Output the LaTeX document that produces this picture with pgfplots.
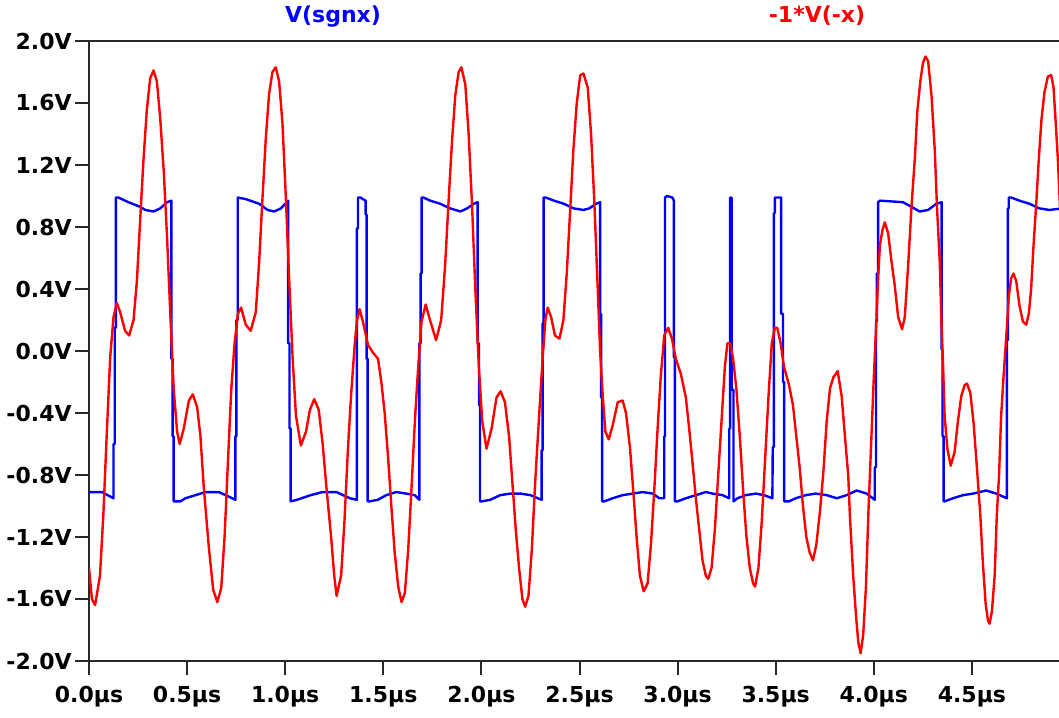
\documentclass[border=0pt]{standalone}
\usepackage{pgfplots}
\pgfplotsset{compat=1.18}
\usepackage{pgfplotstable}
\usepackage{fontspec}
\setmainfont{DejaVu Sans}
\usetikzlibrary{calc}

\definecolor{tracered}{RGB}{255,0,0}
\definecolor{traceblue}{RGB}{0,0,255}
\definecolor{frame}{RGB}{40,40,40}

% V(sgnx): comparator output, time in us, volts
\pgfplotstableread{
t v
0.000 -0.91
0.065 -0.91
0.125 -0.95
0.125 -0.60
0.131 -0.60
0.131 0.15
0.137 0.15
0.137 0.99
0.150 0.99
0.201 0.96
0.261 0.93
0.287 0.91
0.329 0.90
0.363 0.92
0.398 0.96
0.420 0.97
0.420 -0.05
0.426 -0.05
0.426 -0.55
0.431 -0.55
0.431 -0.97
0.466 -0.97
0.491 -0.95
0.543 -0.93
0.594 -0.91
0.662 -0.91
0.696 -0.93
0.730 -0.95
0.746 -0.96
0.746 -0.55
0.751 -0.55
0.751 0.20
0.758 0.20
0.758 0.99
0.799 0.98
0.867 0.95
0.910 0.91
0.944 0.90
0.978 0.92
1.015 0.97
1.015 0.05
1.022 0.05
1.022 -0.50
1.028 -0.50
1.028 -0.97
1.060 -0.96
1.130 -0.93
1.190 -0.91
1.260 -0.91
1.295 -0.93
1.330 -0.95
1.365 -0.96
1.365 0.79
1.371 0.79
1.371 0.99
1.385 0.99
1.395 0.98
1.410 0.97
1.410 0.88
1.415 0.88
1.415 -0.05
1.420 -0.05
1.420 -0.97
1.430 -0.97
1.472 -0.96
1.515 -0.93
1.566 -0.91
1.617 -0.92
1.660 -0.93
1.684 -0.96
1.684 0.05
1.690 0.05
1.690 0.50
1.695 0.50
1.695 0.99
1.705 0.99
1.739 0.97
1.790 0.95
1.841 0.92
1.893 0.90
1.927 0.92
1.961 0.95
1.981 0.96
1.981 0.05
1.988 0.05
1.988 -0.35
1.993 -0.35
1.993 -0.97
2.002 -0.97
2.045 -0.96
2.096 -0.93
2.148 -0.92
2.199 -0.92
2.250 -0.93
2.307 -0.96
2.307 -0.64
2.312 -0.64
2.312 0.18
2.317 0.18
2.317 0.99
2.328 0.99
2.370 0.97
2.420 0.95
2.470 0.92
2.520 0.91
2.550 0.92
2.585 0.95
2.605 0.96
2.605 0.24
2.610 0.24
2.610 -0.30
2.615 -0.30
2.615 -0.97
2.627 -0.97
2.669 -0.95
2.720 -0.93
2.771 -0.92
2.822 -0.91
2.873 -0.92
2.907 -0.95
2.932 -0.95
2.932 -0.55
2.936 -0.55
2.936 0.99
2.946 1.00
2.973 0.99
2.981 0.97
2.981 -0.04
2.986 -0.04
2.986 -0.97
3.000 -0.97
3.042 -0.95
3.093 -0.93
3.144 -0.91
3.178 -0.92
3.229 -0.93
3.263 -0.95
3.263 -0.50
3.268 -0.50
3.268 0.99
3.275 0.99
3.275 -0.25
3.285 -0.25
3.285 -0.97
3.305 -0.95
3.347 -0.93
3.398 -0.92
3.441 -0.93
3.483 -0.95
3.485 -0.62
3.491 -0.62
3.491 0.89
3.496 0.89
3.496 0.99
3.528 0.99
3.528 0.24
3.537 0.24
3.537 -0.20
3.543 -0.20
3.543 -0.97
3.568 -0.97
3.602 -0.95
3.653 -0.93
3.704 -0.92
3.760 -0.93
3.811 -0.95
3.862 -0.93
3.913 -0.90
3.964 -0.92
4.005 -0.96
4.005 -0.75
4.011 -0.75
4.011 0.19
4.016 0.19
4.016 0.50
4.022 0.50
4.022 0.96
4.031 0.97
4.149 0.96
4.192 0.93
4.234 0.90
4.277 0.91
4.319 0.95
4.346 0.96
4.346 0.01
4.350 0.01
4.350 -0.55
4.356 -0.55
4.356 -0.97
4.361 -0.97
4.404 -0.95
4.455 -0.93
4.506 -0.92
4.573 -0.90
4.624 -0.92
4.678 -0.95
4.678 0.07
4.683 0.07
4.683 0.92
4.688 0.92
4.688 0.99
4.700 0.99
4.742 0.97
4.793 0.95
4.844 0.92
4.895 0.91
4.960 0.92
}\sgnx

% -1*V(-x): input signal, time in us, volts
\pgfplotstableread{
t v
0.000 -1.40
0.015 -1.60
0.031 -1.64
0.056 -1.45
0.073 -1.06
0.090 -0.55
0.108 -0.04
0.125 0.22
0.142 0.31
0.159 0.25
0.184 0.13
0.205 0.10
0.227 0.20
0.244 0.45
0.261 0.85
0.278 1.24
0.295 1.56
0.312 1.76
0.329 1.81
0.346 1.74
0.363 1.50
0.381 1.16
0.398 0.73
0.415 0.22
0.432 -0.25
0.449 -0.52
0.462 -0.60
0.483 -0.50
0.509 -0.32
0.529 -0.28
0.551 -0.36
0.568 -0.55
0.585 -0.88
0.611 -1.27
0.633 -1.54
0.654 -1.62
0.674 -1.53
0.691 -1.20
0.708 -0.72
0.725 -0.25
0.742 0.05
0.759 0.24
0.775 0.28
0.799 0.17
0.824 0.13
0.850 0.25
0.867 0.57
0.884 0.98
0.901 1.37
0.918 1.66
0.935 1.80
0.952 1.83
0.969 1.74
0.986 1.47
1.003 1.00
1.020 0.47
1.038 -0.05
1.055 -0.42
1.080 -0.61
1.106 -0.52
1.126 -0.38
1.148 -0.31
1.171 -0.38
1.191 -0.60
1.208 -0.85
1.234 -1.20
1.250 -1.45
1.262 -1.58
1.285 -1.45
1.302 -1.10
1.319 -0.65
1.336 -0.28
1.353 0.02
1.365 0.19
1.379 0.27
1.396 0.19
1.422 0.04
1.447 -0.01
1.473 -0.05
1.490 -0.20
1.507 -0.40
1.524 -0.68
1.541 -1.00
1.558 -1.30
1.576 -1.52
1.593 -1.62
1.610 -1.56
1.627 -1.28
1.644 -0.88
1.661 -0.45
1.678 -0.10
1.695 0.19
1.716 0.30
1.738 0.20
1.769 0.07
1.795 0.20
1.815 0.55
1.832 0.95
1.850 1.35
1.867 1.65
1.884 1.80
1.898 1.83
1.918 1.72
1.935 1.40
1.952 0.95
1.969 0.40
1.987 -0.10
2.004 -0.45
2.026 -0.63
2.052 -0.50
2.077 -0.30
2.098 -0.26
2.120 -0.33
2.141 -0.55
2.158 -0.85
2.175 -1.15
2.192 -1.40
2.209 -1.60
2.223 -1.65
2.240 -1.58
2.257 -1.28
2.274 -0.85
2.295 -0.40
2.312 -0.05
2.326 0.20
2.338 0.28
2.355 0.22
2.375 0.10
2.398 0.08
2.418 0.20
2.435 0.50
2.452 0.90
2.469 1.30
2.486 1.60
2.504 1.78
2.520 1.79
2.542 1.70
2.559 1.40
2.576 0.95
2.593 0.40
2.605 0.00
2.619 -0.30
2.632 -0.52
2.649 -0.57
2.669 -0.48
2.695 -0.33
2.720 -0.32
2.737 -0.40
2.757 -0.62
2.774 -0.90
2.791 -1.20
2.808 -1.45
2.827 -1.55
2.847 -1.50
2.864 -1.25
2.881 -0.90
2.898 -0.50
2.915 -0.15
2.932 0.10
2.952 0.15
2.971 0.08
2.991 -0.05
3.017 -0.15
3.042 -0.30
3.059 -0.50
3.076 -0.72
3.093 -0.95
3.110 -1.15
3.127 -1.35
3.144 -1.45
3.156 -1.47
3.173 -1.40
3.190 -1.15
3.207 -0.80
3.224 -0.45
3.241 -0.10
3.254 0.05
3.268 0.05
3.283 -0.05
3.300 -0.25
3.317 -0.55
3.334 -0.90
3.351 -1.20
3.368 -1.40
3.385 -1.50
3.395 -1.52
3.412 -1.40
3.429 -1.10
3.446 -0.70
3.463 -0.30
3.480 0.05
3.496 0.15
3.508 0.15
3.525 0.05
3.542 -0.10
3.568 -0.22
3.588 -0.35
3.605 -0.55
3.622 -0.75
3.639 -1.00
3.656 -1.20
3.673 -1.30
3.690 -1.35
3.707 -1.25
3.726 -1.03
3.743 -0.78
3.760 -0.45
3.777 -0.24
3.794 -0.17
3.816 -0.13
3.836 -0.29
3.853 -0.55
3.870 -0.81
3.878 -1.06
3.895 -1.45
3.909 -1.70
3.921 -1.88
3.933 -1.95
3.946 -1.83
3.960 -1.52
3.972 -1.06
3.988 -0.55
4.000 -0.17
4.014 0.22
4.022 0.47
4.031 0.68
4.044 0.78
4.056 0.83
4.073 0.76
4.090 0.58
4.107 0.42
4.124 0.22
4.144 0.14
4.158 0.22
4.175 0.55
4.192 0.93
4.209 1.24
4.222 1.55
4.238 1.75
4.251 1.86
4.263 1.90
4.277 1.87
4.294 1.65
4.311 1.29
4.322 0.93
4.336 0.58
4.344 0.22
4.353 -0.09
4.361 -0.42
4.375 -0.63
4.392 -0.74
4.412 -0.65
4.429 -0.45
4.446 -0.29
4.463 -0.22
4.475 -0.21
4.492 -0.27
4.509 -0.47
4.526 -0.76
4.543 -1.06
4.556 -1.37
4.570 -1.63
4.582 -1.74
4.590 -1.76
4.602 -1.68
4.616 -1.45
4.627 -1.06
4.638 -0.81
4.649 -0.42
4.661 -0.17
4.675 0.09
4.688 0.35
4.700 0.47
4.712 0.50
4.726 0.45
4.743 0.29
4.760 0.19
4.777 0.17
4.790 0.24
4.802 0.40
4.814 0.68
4.827 0.93
4.841 1.24
4.855 1.50
4.870 1.67
4.887 1.77
4.904 1.78
4.916 1.70
4.926 1.50
4.938 1.24
4.950 0.90
4.962 0.55
}\inputx

\newcommand{\lbl}{\bfseries\fontsize{11}{13}\selectfont}

\begin{document}
\begin{tikzpicture}
\begin{axis}[
  name=ax,
  scale only axis,
  width=490.5pt, height=310pt,
  xmin=0, xmax=5, ymin=-2, ymax=2,
  axis line style={frame, line width=1pt},
  tick style={frame, line width=1pt},
  tick align=outside,
  major tick length=7pt,
  xtick pos=bottom, ytick pos=left,
  xtick={0,0.5,1,1.5,2,2.5,3,3.5,4,4.5},
  xticklabels={0.0µs,0.5µs,1.0µs,1.5µs,2.0µs,2.5µs,3.0µs,3.5µs,4.0µs,4.5µs},
  ytick={-2,-1.6,-1.2,-0.8,-0.4,0,0.4,0.8,1.2,1.6,2},
  yticklabels={-2.0V,-1.6V,-1.2V,-0.8V,-0.4V,0.0V,0.4V,0.8V,1.2V,1.6V,2.0V},
  ticklabel style={font=\lbl, text=black},
  yticklabel style={inner sep=0pt, xshift=-1.5pt},
  xticklabel style={inner sep=0pt, yshift=-5.5pt},
  every axis plot/.append style={line width=1.2pt, line join=round},
]
\addplot[traceblue, mark=none] table[x=t, y=v] {\sgnx};
\addplot[tracered, mark=none] table[x=t, y=v] {\inputx};
\coordinate (BL) at (rel axis cs:0,0);
\coordinate (TL) at (rel axis cs:0,1);
\end{axis}
\node[anchor=base, text=traceblue, font=\lbl] at ($(TL)+(122pt,9pt)$) {V(sgnx)};
\node[anchor=base, text=tracered, font=\lbl] at ($(TL)+(364pt,9pt)$) {-1*V(-x)};
\pgfresetboundingbox
\path ($(BL)+(-44.5pt,-28pt)$) rectangle ($(TL)+(485pt,20.5pt)$);
\end{tikzpicture}
\end{document}
